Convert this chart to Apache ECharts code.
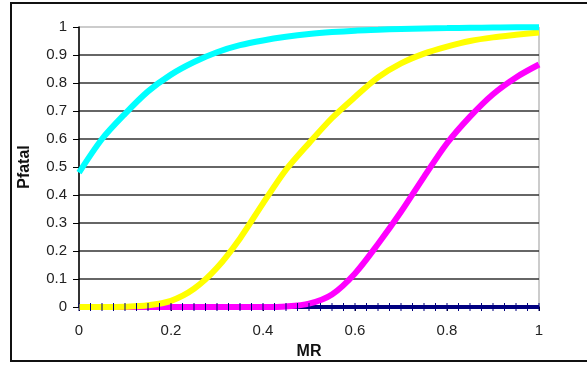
<!DOCTYPE html>
<html>
<head>
<meta charset="utf-8">
<script src="https://cdn.jsdelivr.net/npm/echarts@6/dist/echarts.min.js"></script>
<style>
html,body{margin:0;padding:0;background:#fff;}
#c{width:587px;height:365px;}
</style>
</head>
<body>
<div id="c"></div>
<script>
// MR values (x) at which curves were read
var mrValues = [0,0.05,0.1,0.15,0.2,0.25,0.3,0.35,0.4,0.45,0.5,0.55,0.6,0.65,0.7,0.75,0.8,0.85,0.9,0.95,1];
var cyanValues = [0.48,0.60,0.69,0.77,0.83,0.875,0.91,0.935,0.952,0.965,0.975,0.982,0.987,0.99,0.993,0.995,0.996,0.997,0.998,0.999,0.999];
var yellowValues = [0,0,0.001,0.006,0.022,0.065,0.14,0.245,0.37,0.49,0.585,0.675,0.75,0.82,0.87,0.905,0.93,0.95,0.963,0.972,0.98];
var magentaValues = [0,0,0,0,0,0,0,0,0,0.002,0.012,0.045,0.12,0.225,0.34,0.465,0.585,0.68,0.76,0.82,0.866];
var navyMr = [0,0.025,0.05,0.075,0.1,0.125,0.15,0.175,0.2,0.225,0.25,0.275,0.3,0.325,0.35,0.375,0.4,0.425,0.45,0.475,0.5,0.525,0.55,0.575,0.6,0.625,0.65,0.675,0.7,0.725,0.75,0.775,0.8,0.825,0.85,0.875,0.9,0.925,0.95,0.975,1];
var navyValues = [0,0,0,0,0,0,0,0,0,0,0,0,0,0,0,0,0,0,0,0,0,0,0,0,0,0,0,0,0,0,0,0,0,0,0,0,0,0,0,0,0];
var xTitle = 'MR';
var yTitle = 'Pfatal';

function pairs(xs, ys){ return xs.map(function(x,i){ return [x, ys[i]]; }); }

var chart = echarts.init(document.getElementById('c'), null, {renderer:'canvas'});
var font = 'Arial, "Liberation Sans", sans-serif';
chart.setOption({
  animation:false,
  backgroundColor:'#fff',
  graphic:[{type:'rect', shape:{x:11, y:3, width:590, height:358}, style:{fill:'none', stroke:'#111', lineWidth:2}, z:-1}],
  grid:{left:79, right:48, top:27, bottom:55, show:true, borderColor:'#999', borderWidth:1, backgroundColor:'transparent'},
  xAxis:{type:'value', min:0, max:1, interval:0.2,
    name:xTitle, nameLocation:'middle', nameGap:37,
    nameTextStyle:{fontFamily:font, fontSize:16, fontWeight:'bold', color:'#111'},
    axisLine:{show:true, onZero:false, lineStyle:{color:'#000', width:1.5}},
    axisTick:{show:true, length:4, lineStyle:{color:'#000'}},
    axisLabel:{fontFamily:font, fontSize:15, color:'#222', margin:16},
    splitLine:{show:false}},
  yAxis:{type:'value', min:0, max:1, interval:0.1,
    name:yTitle, nameLocation:'middle', nameGap:46, nameRotate:90,
    nameTextStyle:{fontFamily:font, fontSize:16, fontWeight:'bold', color:'#111'},
    axisLine:{show:true, lineStyle:{color:'#000', width:1.5}},
    axisTick:{show:true, length:6, lineStyle:{color:'#000'}},
    axisLabel:{fontFamily:font, fontSize:15, color:'#222', margin:12},
    splitLine:{show:true, showMaxLine:false, lineStyle:{color:'#333', width:1.5}}},
  series:[
    {type:'line', data:pairs(navyMr, navyValues), symbol:'rect', symbolSize:[1,8], showSymbol:true,
     itemStyle:{color:'#000080'}, lineStyle:{color:'#000080', width:4}},
    {type:'line', data:pairs(mrValues, magentaValues), smooth:0.3, symbol:'none', lineStyle:{color:'#FF00FF', width:6}},
    {type:'line', data:pairs(mrValues, yellowValues), smooth:0.3, symbol:'none', lineStyle:{color:'#FFFF00', width:6}},
    {type:'line', data:pairs(mrValues, cyanValues), smooth:0.3, symbol:'none', lineStyle:{color:'#00FFFF', width:6}}
  ]
});
</script>
</body>
</html>
